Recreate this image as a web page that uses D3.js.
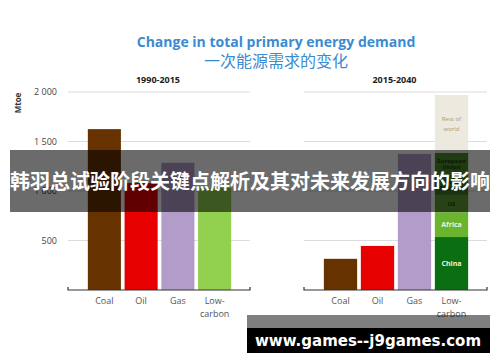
<!DOCTYPE html>
<html>
<head>
<meta charset="utf-8">
<script src="https://cdn.jsdelivr.net/npm/d3@7"></script>
<style>
  body { margin: 0; background: #fff; }
  svg { display: block; font-family: "Open Sans", "Liberation Sans", sans-serif; }
</style>
</head>
<body>
<div id="chart"></div>
<script>
// Data
const categories = ["Coal", "Oil", "Gas", "Low-carbon"];
const past = [1625, 1080, 1285, 1030];          // 1990-2015
const future = [315, 445, 1375, 0];             // 2015-2040 (low-carbon is stacked)
const lowCarbonRegions = ["China", "Africa", "US", "Latin America", "European Union", "Rest of world"];
const lowCarbonValues = [535, 245, 180, 210, 215, 585];
const yTicks = [500, 1000, 1500, 2000];
const barColors = ["#663300", "#e60000", "#b29dca", "#92d050"];
const regionColors = ["#0b6e12", "#6ab42e", "#5f9e35", "#3f7a22", "#4c8a2a", "#eceadf"];

const W = 500, H = 362;
const svg = d3.select("#chart").append("svg")
  .attr("width", W).attr("height", H);

const y = d3.scaleLinear().domain([0, 2000]).range([290, 92]);

// Title
svg.append("text")
  .attr("x", 276).attr("y", 47)
  .attr("text-anchor", "middle")
  .style("font-size", "14px").style("font-weight", "bold")
  .style("fill", "#3b8bd2")
  .text("Change in total primary energy demand");
svg.append("text")
  .attr("x", 276).attr("y", 67)
  .attr("text-anchor", "middle")
  .style("font-family", "'Noto Sans CJK SC'")
  .style("font-size", "16px")
  .style("fill", "#3b8bd2")
  .text("一次能源需求的变化");

// Y axis labels
svg.selectAll(".ytick")
  .data(yTicks)
  .enter().append("text")
    .attr("x", 57).attr("y", d => y(d) + 3)
    .attr("text-anchor", "end")
    .style("font-size", "9px").style("fill", "#444")
    .text(d => d3.format(",")(d).replace(",", " "));

svg.append("text")
  .attr("transform", "translate(21,103) rotate(-90)")
  .attr("text-anchor", "middle")
  .style("font-size", "8px").style("font-weight", "bold").style("fill", "#333")
  .text("Mtoe");

function panel(x0, x1, title, values, stacked) {
  const g = svg.append("g");
  const x = d3.scaleBand().domain(categories)
    .range([x0 + 18, x1 - 17]).paddingInner(0.1).paddingOuter(0.05);

  // grid
  g.selectAll(".grid").data(yTicks).enter().append("line")
    .attr("x1", x0).attr("x2", x1)
    .attr("y1", d => y(d)).attr("y2", d => y(d))
    .attr("stroke", "#dcdcdc").attr("stroke-width", 1);

  g.append("text")
    .attr("x", (x0 + x1) / 2 - 1).attr("y", 83)
    .attr("text-anchor", "middle")
    .style("font-size", "9px").style("font-weight", "bold").style("fill", "#222")
    .text(title);

  g.selectAll(".bar").data(values).enter().append("rect")
    .attr("x", (d, i) => x(categories[i]))
    .attr("width", x.bandwidth())
    .attr("y", d => y(d))
    .attr("height", d => y(0) - y(d))
    .attr("fill", (d, i) => barColors[i]);

  if (stacked) {
    let acc = 0;
    const segs = lowCarbonValues.map((v, i) => {
      const s = { name: lowCarbonRegions[i], y0: acc, y1: acc + v, color: regionColors[i] };
      acc += v;
      return s;
    });
    const bx = x("Low-carbon"), bw = x.bandwidth();
    g.selectAll(".seg").data(segs).enter().append("rect")
      .attr("x", bx).attr("width", bw)
      .attr("y", d => y(d.y1))
      .attr("height", d => y(d.y0) - y(d.y1))
      .attr("fill", d => d.color);
    const labels = g.selectAll(".seglabel").data(segs).enter().append("text")
      .attr("x", bx + bw / 2)
      .attr("text-anchor", "middle")
      .style("font-weight", d => d.name === "Rest of world" ? "normal" : "bold")
      .style("font-size", d => (d.name === "China" || d.name === "Africa") ? "7px" : "6px")
      .style("fill", d => d.name === "Rest of world" ? "#a59d74" : (d.name === "China" || d.name === "Africa") ? "#e8f5df" : "#1f3d10");
    labels.each(function(d) {
      const words = d.name === "Rest of world" ? ["Rest of", "world"] :
                    d.name.indexOf(" ") > 0 ? d.name.split(" ") : [d.name];
      const cy = (y(d.y0) + y(d.y1)) / 2;
      const lh = d.name === "Rest of world" ? 10 : 6.5;
      const t = d3.select(this);
      words.forEach((w, k) => {
        t.append("tspan").attr("x", bx + bw / 2)
          .attr("y", cy + 2.5 + (k - (words.length - 1) / 2) * lh)
          .text(w);
      });
    });
  }

  // baseline bracket
  g.append("path")
    .attr("d", `M${x0},${y(0) - 3}V${y(0)}H${x1}V${y(0) - 3}`)
    .attr("fill", "none").attr("stroke", "#333").attr("stroke-width", 1.2);

  // category labels
  g.selectAll(".cat").data(categories).enter().append("text")
    .attr("text-anchor", "middle")
    .style("font-size", "9px").style("fill", "#555")
    .each(function(d) {
      const parts = d === "Low-carbon" ? ["Low-", "carbon"] : [d];
      parts.forEach((p, k) => {
        d3.select(this).append("tspan")
          .attr("x", x(d) + x.bandwidth() / 2)
          .attr("y", 304 + k * 13)
          .text(p);
      });
    });
}

panel(68, 250, "1990-2015", past, false);
panel(304, 487, "2015-2040", future, true);

// overlay banner
svg.append("rect")
  .attr("x", 10).attr("y", 150).attr("width", 480).attr("height", 62)
  .attr("fill", "rgba(0,0,0,0.58)");
svg.append("text")
  .attr("x", 250).attr("y", 189)
  .attr("text-anchor", "middle")
  .style("font-family", "'Noto Sans CJK SC'")
  .style("font-size", "20px").style("font-weight", "bold")
  .style("fill", "#fff")
  .text("韩羽总试验阶段关键点解析及其对未来发展方向的影响");

// watermark
svg.append("rect")
  .attr("x", 247).attr("y", 315).attr("width", 243).attr("height", 13)
  .attr("fill", "rgba(0,0,0,0.5)");
svg.append("rect")
  .attr("x", 247).attr("y", 328).attr("width", 243).attr("height", 25)
  .attr("fill", "#000");
svg.append("text")
  .attr("x", 368).attr("y", 346)
  .attr("text-anchor", "middle")
  .style("font-family", "'DejaVu Sans'")
  .style("font-size", "15px").style("font-weight", "bold")
  .style("fill", "#fff")
  .text("www.games--j9games.com");
</script>
</body>
</html>
